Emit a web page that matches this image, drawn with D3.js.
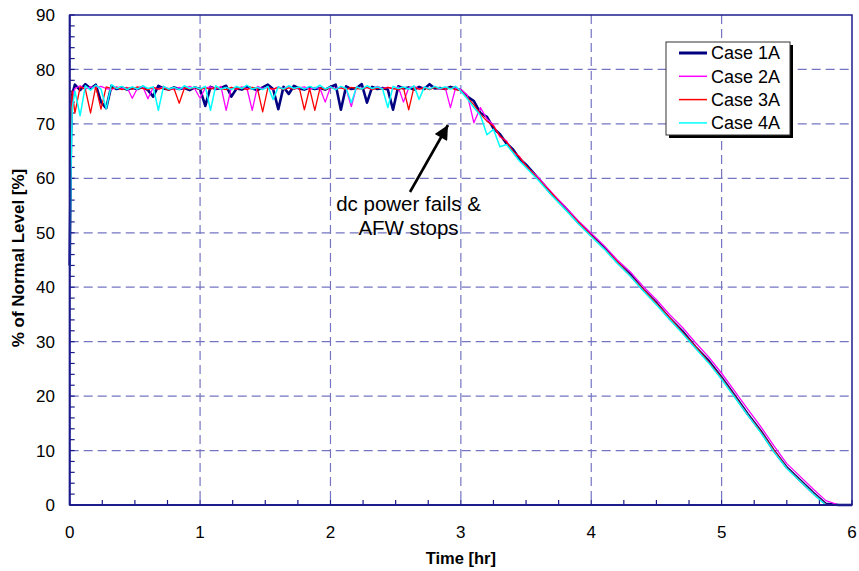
<!DOCTYPE html>
<html><head><meta charset="utf-8">
<script src="https://cdn.jsdelivr.net/npm/d3@7"></script>
<style>body{margin:0;background:#fff}svg{display:block}text{font-family:"Liberation Sans",Arial,sans-serif}</style>
</head><body><svg id="c" width="859" height="571"></svg>
<script>
const times = [0,0.01,0.02,
0.04,0.08,0.12,0.16,0.20,0.24,0.28,0.32,0.36,0.40,0.44,0.48,0.52,0.56,0.60,0.64,0.68,0.72,0.76,0.80,0.84,0.88,0.92,0.96,1.00,
1.04,1.08,1.12,1.16,1.20,1.24,1.28,1.32,1.36,1.40,1.44,1.48,1.52,1.56,1.60,1.64,1.68,1.72,1.76,1.80,1.84,1.88,1.92,1.96,2.00,
2.04,2.08,2.12,2.16,2.20,2.24,2.28,2.32,2.36,2.40,2.44,2.48,2.52,2.56,2.60,2.64,2.68,2.72,2.76,2.80,2.84,2.88,2.92,2.96,3.00,
3.05,3.10,3.15,3.20,3.25,3.30,3.35,3.40,3.45,3.50,
3.6,3.7,3.8,3.9,4.0,4.1,4.2,4.3,4.4,4.5,4.6,4.7,4.8,4.9,5.0,5.1,5.2,5.3,5.4,5.5,5.6,5.7,5.8,5.9,6.0];

const case1A = [44,68,75.5,
77.2,76.2,77.3,76.5,77.2,74.0,72.9,77.0,76.4,76.7,76.3,76.6,76.4,76.8,76.2,75.0,77.0,76.5,76.3,76.7,76.4,76.6,76.2,76.7,76.4,
73.3,76.8,76.4,76.6,77.0,75.0,76.5,76.3,76.8,76.5,76.2,76.7,77.2,76.4,72.7,76.8,75.5,77.0,76.5,76.3,76.7,76.4,76.6,76.3,76.8,
77.2,72.6,76.9,76.4,76.6,77.3,73.9,76.8,76.4,76.6,76.3,72.6,76.9,76.5,76.7,76.3,76.8,76.4,77.3,76.5,76.6,76.4,76.8,76.5,76.2,
75.0,74.2,72.0,71.3,69.2,68.1,66.4,65.3,63.6,62.5,
59.8,57.0,54.6,51.9,49.6,47.3,44.6,42.3,39.5,37.1,34.3,31.9,29.0,26.5,23.4,20.1,16.7,13.6,10.0,6.9,4.6,2.3,0.2,0,0];

const case2A = [46,66,75,
76.5,77.0,76.4,76.8,76.6,76.9,76.5,76.3,76.8,76.5,76.7,74.7,76.6,76.9,74.6,76.7,76.4,76.8,76.5,76.3,76.7,76.5,76.9,76.4,74.7,
76.6,76.8,76.4,76.9,72.5,76.7,76.4,76.8,76.5,72.5,76.9,76.5,76.7,76.3,76.8,76.5,76.9,76.4,76.6,76.8,76.4,76.7,76.5,74.0,76.8,
76.5,76.7,76.4,73.2,76.8,76.5,76.7,76.4,76.9,76.5,76.7,76.4,76.8,74.0,76.6,76.9,76.4,76.7,76.5,76.8,76.4,76.7,73.0,76.6,76.3,
75.3,70.2,73.0,70.9,69.8,67.6,66.9,64.8,64.0,62.2,
60.0,57.3,54.8,52.2,49.9,47.6,45.0,42.8,40.1,37.7,35.0,32.6,29.8,27.2,24.2,20.9,17.6,14.4,10.9,7.6,5.3,3.0,0.8,0,0];

const case3A = [45,70,76,
72.0,76.8,76.4,72.0,76.9,72.7,76.8,76.5,76.7,76.3,76.6,76.4,76.8,76.5,76.3,76.7,76.4,76.6,76.2,76.5,73.8,76.6,76.4,76.7,76.3,
76.6,76.4,76.7,76.5,76.3,76.7,76.4,76.6,76.3,76.7,76.5,72.2,76.6,76.4,76.7,76.3,76.6,76.4,76.7,72.6,76.5,72.5,76.6,76.3,76.7,
76.4,76.6,76.3,76.7,76.5,76.4,76.7,76.3,76.6,76.4,76.7,76.5,76.3,76.6,72.6,76.7,76.4,76.6,76.3,76.7,76.5,76.4,76.6,76.3,76.1,
74.8,73.5,71.8,70.5,69.6,67.8,66.7,65.0,63.9,62.3,
59.7,57.2,54.4,52.0,49.5,47.1,44.7,42.1,39.6,37.0,34.4,31.7,29.1,26.3,23.3,20.0,16.6,13.5,10.1,6.8,4.5,2.2,0.1,0,0];

const case4A = [43,62,73,
76.0,71.5,77.0,76.2,77.1,76.4,72.8,77.2,76.5,76.9,76.3,76.8,76.4,77.0,76.5,76.8,72.5,76.9,76.4,76.7,76.3,77.0,76.5,76.8,76.4,
76.9,72.5,77.0,76.4,76.7,76.3,76.9,76.5,77.1,76.4,76.7,76.3,76.9,74.5,76.8,76.4,77.0,76.5,76.8,76.4,76.9,76.5,77.1,76.4,76.8,
76.3,76.9,76.5,73.9,76.8,76.4,77.0,76.5,76.8,76.4,73.0,76.9,76.5,76.8,76.4,77.0,74.5,76.8,76.4,76.9,76.5,76.8,76.4,76.9,76.0,
74.6,73.0,71.6,68.0,69.0,65.8,66.2,64.7,63.2,62.0,
59.5,56.8,54.3,51.7,49.3,47.0,44.4,42.0,39.3,36.8,34.1,31.5,28.8,26.1,23.1,19.8,16.5,13.3,9.8,6.7,4.4,2.1,0.0,0,0];

const seriesNames = ["Case 1A","Case 2A","Case 3A","Case 4A"];
const seriesColors = ["#000080","#ff00ff","#ff0000","#00ffff"];
const seriesWidths = [2.6,1.3,1.3,1.5];
const xTicks = [0,1,2,3,4,5,6];
const yTicks = [0,10,20,30,40,50,60,70,80,90];
const annotationLines = ["dc power fails &","AFW stops"];

const svg = d3.select("#c");
const L = 69.7, R = 852, T = 15, B = 505;
const x = d3.scaleLinear().domain([0,6]).range([L,R]);
const y = d3.scaleLinear().domain([0,90]).range([B,T]);
const navy = "#1c1c8c";
const gridC = "#7474c2";

svg.append("g").selectAll("line").data(yTicks.filter(d=>d>0&&d<90)).join("line")
  .attr("x1",L).attr("x2",R).attr("y1",d=>y(d)).attr("y2",d=>y(d))
  .attr("stroke",gridC).attr("stroke-width",1.2).attr("stroke-dasharray","9,5");
svg.append("g").selectAll("line").data(xTicks.filter(d=>d>0&&d<6)).join("line")
  .attr("y1",T).attr("y2",B).attr("x1",d=>x(d)).attr("x2",d=>x(d))
  .attr("stroke",gridC).attr("stroke-width",1.2).attr("stroke-dasharray","9,5");

svg.append("g").selectAll("line").data(d3.range(0,91,2)).join("line")
  .attr("x1",L).attr("x2",L+5).attr("y1",d=>y(d)).attr("y2",d=>y(d))
  .attr("stroke",navy).attr("stroke-width",1.2);
svg.append("g").selectAll("line").data(d3.range(0,6.01,0.25)).join("line")
  .attr("y1",B).attr("y2",B-5).attr("x1",d=>x(d)).attr("x2",d=>x(d))
  .attr("stroke",navy).attr("stroke-width",1.2);

const data = [case1A,case2A,case3A,case4A];
const line = d3.line().x((d,i)=>x(times[i])).y(d=>y(d));
data.forEach((s,j)=>{
  svg.append("path").datum(s).attr("d",line).attr("fill","none")
    .attr("stroke",seriesColors[j]).attr("stroke-width",seriesWidths[j]).attr("stroke-linejoin","round");
});

svg.append("rect").attr("x",L).attr("y",T).attr("width",R-L).attr("height",B-T)
  .attr("fill","none").attr("stroke",navy).attr("stroke-width",1.5);
svg.append("line").attr("x1",L).attr("x2",L).attr("y1",T).attr("y2",B).attr("stroke",navy).attr("stroke-width",2);
svg.append("line").attr("x1",L).attr("x2",R).attr("y1",B).attr("y2",B).attr("stroke",navy).attr("stroke-width",2);

svg.append("g").selectAll("text").data(yTicks).join("text")
  .attr("x",55).attr("y",d=>y(d)).attr("dy","0.36em").attr("text-anchor","end")
  .attr("font-size",17).attr("fill","#000").text(d=>d);
svg.append("g").selectAll("text").data(xTicks).join("text")
  .attr("x",d=>x(d)).attr("y",538).attr("text-anchor","middle")
  .attr("font-size",17).attr("fill","#000").text(d=>d);

svg.append("text").attr("x",(L+R)/2).attr("y",564).attr("text-anchor","middle")
  .attr("font-size",16.5).attr("font-weight","bold").text("Time [hr]");
svg.append("text").attr("transform",`translate(24,258) rotate(-90)`).attr("text-anchor","middle")
  .attr("font-size",17).attr("font-weight","bold").text("% of Normal Level [%]");

const lg = svg.append("g");
lg.append("rect").attr("x",669).attr("y",45).attr("width",124).attr("height",93).attr("fill","#000");
lg.append("rect").attr("x",666).attr("y",42).attr("width",124).attr("height",93).attr("fill","#fff")
  .attr("stroke","#333").attr("stroke-width",1);
seriesNames.forEach((n,i)=>{
  const yy = 53 + i*23.3;
  lg.append("line").attr("x1",679).attr("x2",707).attr("y1",yy).attr("y2",yy)
    .attr("stroke",seriesColors[i]).attr("stroke-width",i===0?3:1.5);
  lg.append("text").attr("x",711).attr("y",yy).attr("dy","0.36em").attr("font-size",18).text(n);
});

svg.append("defs").append("marker").attr("id","ah").attr("viewBox","0 0 10 10")
  .attr("refX",10).attr("refY",5).attr("markerWidth",6).attr("markerHeight",5.5)
  .attr("orient","auto").attr("markerUnits","strokeWidth")
  .append("path").attr("d","M0,0L10,5L0,10z").attr("fill","#000");
svg.append("line").attr("x1",410).attr("y1",192).attr("x2",448).attr("y2",125)
  .attr("stroke","#000").attr("stroke-width",2.6).attr("marker-end","url(#ah)");
annotationLines.forEach((t,i)=>{
  svg.append("text").attr("x",408.5).attr("y",211+i*24).attr("text-anchor","middle")
    .attr("font-size",20.5).text(t);
});
</script></body></html>
